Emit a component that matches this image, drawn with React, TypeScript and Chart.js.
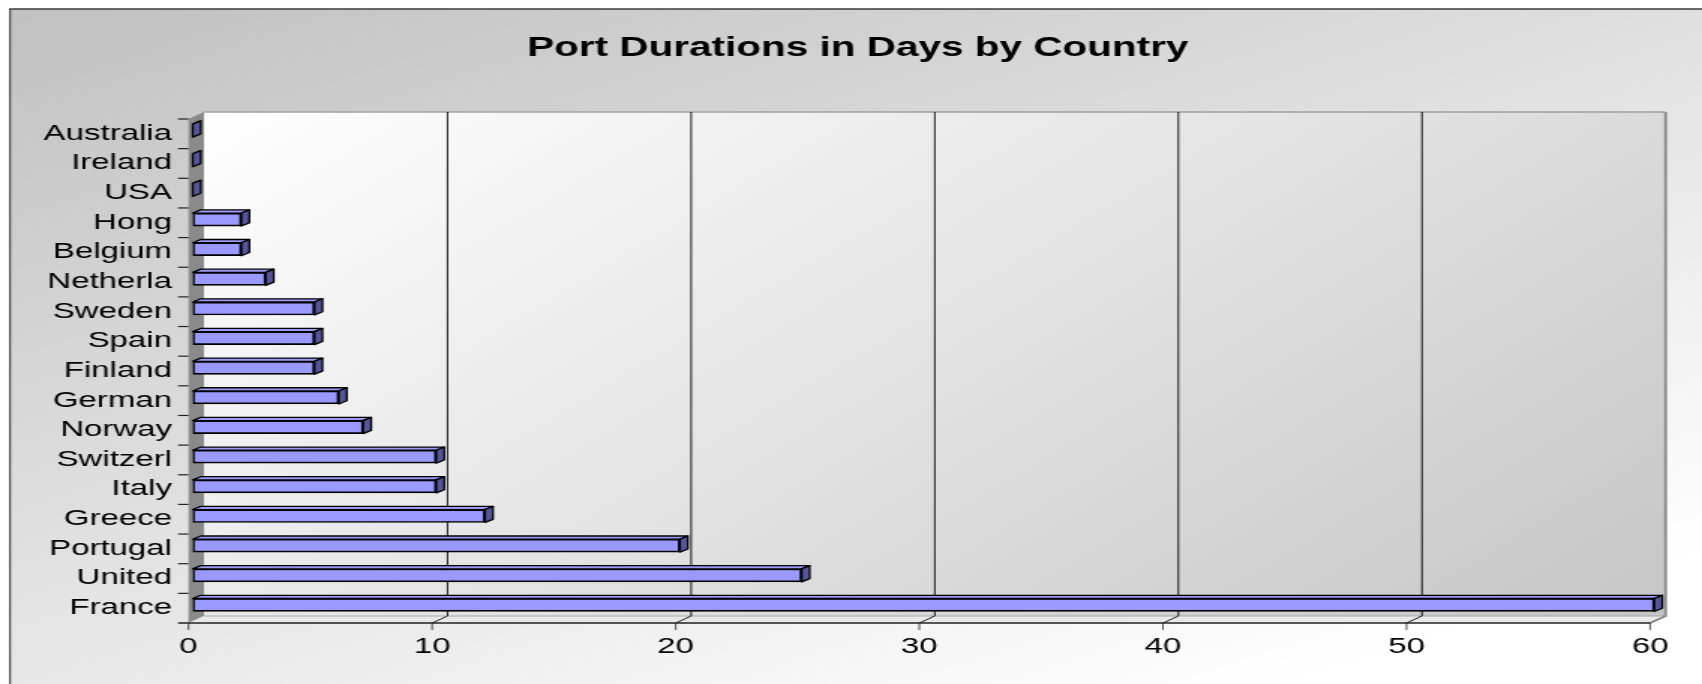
import { useEffect, useRef } from 'react';
import { Chart, registerables } from 'chart.js';

Chart.register(...registerables);

// ---- data ----
const categories = ['Australia', 'Ireland', 'USA', 'Hong', 'Belgium', 'Netherla', 'Sweden', 'Spain', 'Finland', 'German', 'Norway', 'Switzerl', 'Italy', 'Greece', 'Portugal', 'United', 'France'];
const portDays = [0, 0, 0, 2, 2, 3, 5, 5, 5, 6, 7, 10, 10, 12, 20, 25, 60];
const xTicks = [0, 10, 20, 30, 40, 50, 60];
const chartTitle = 'Port Durations in Days by Country';

// ---- layout / style ----
const W = 1135;
const H = 684;
const STRETCH = 1702 / W;
const FONT = "'Liberation Sans', Arial, Helvetica, sans-serif";
const FRONT = { dx: -2.8, dy: 3.2 };
const BACK = { dx: 7.5, dy: -3.8 };
const BAR_D = { dx: 5.3, dy: -3.2 };
const AREA_BOTTOM = 619.8;

const scenePlugin = {
  id: 'scene3d',
  beforeDraw(chart: any) {
    const { ctx, width, height } = chart;
    ctx.save();
    ctx.fillStyle = '#ffffff';
    ctx.fillRect(0, 0, width, height);
    const bx = 6.7;
    const by = 9;
    const g = ctx.createLinearGradient(0, 0, 422, 890);
    g.addColorStop(0, '#c0c0c0');
    g.addColorStop(1, '#ffffff');
    ctx.fillStyle = g;
    ctx.fillRect(bx, by, width - bx, height - by);
    ctx.strokeStyle = '#3a3a3a';
    ctx.lineWidth = 1.6;
    ctx.beginPath();
    ctx.moveTo(bx - 0.6, by);
    ctx.lineTo(width, by);
    ctx.stroke();
    ctx.lineWidth = 1.1;
    ctx.beginPath();
    ctx.moveTo(bx, by);
    ctx.lineTo(bx, height);
    ctx.stroke();
    ctx.restore();
  },
  beforeDatasetsDraw(chart: any) {
    const { ctx, chartArea } = chart;
    const xs = chart.scales.x;
    const x0 = xs.getPixelForValue(xs.min);
    const x1 = xs.getPixelForValue(xs.max);
    const top = chartArea.top;
    const bot = chartArea.bottom;
    const n = categories.length;
    const band = (bot - top) / n;
    const bl = x0 + BACK.dx, br = x1 + BACK.dx, bt = top + BACK.dy, bb = bot + BACK.dy;
    const fl = x0 + FRONT.dx, fr = x1 + FRONT.dx, ft = top + FRONT.dy, fb = bot + FRONT.dy;
    ctx.save();
    // back wall
    const g = ctx.createLinearGradient(bl, bt, bl + 684, bt + 760);
    g.addColorStop(0, '#ffffff');
    g.addColorStop(1, '#c6c6c6');
    ctx.fillStyle = g;
    ctx.fillRect(bl, bt, br - bl, bb - bt);
    // left side wall
    ctx.fillStyle = '#8a8a8a';
    ctx.beginPath();
    ctx.moveTo(fl, ft);
    ctx.lineTo(bl, bt);
    ctx.lineTo(bl, bb);
    ctx.lineTo(fl, fb);
    ctx.closePath();
    ctx.fill();
    // floor
    ctx.fillStyle = '#e9e9e9';
    ctx.beginPath();
    ctx.moveTo(fl, fb);
    ctx.lineTo(fr, fb);
    ctx.lineTo(br, bb);
    ctx.lineTo(bl, bb);
    ctx.closePath();
    ctx.fill();
    ctx.strokeStyle = '#a8a8a8';
    ctx.lineWidth = 1.2;
    ctx.beginPath();
    ctx.moveTo(bl, bb);
    ctx.lineTo(br, bb);
    ctx.stroke();
    // wall edges
    ctx.strokeStyle = '#a0a0a0';
    ctx.lineWidth = 1.6;
    ctx.beginPath();
    ctx.moveTo(bl, bt);
    ctx.lineTo(br, bt);
    ctx.stroke();
    ctx.strokeStyle = '#868686';
    ctx.lineWidth = 1.8;
    ctx.beginPath();
    ctx.moveTo(br, bt);
    ctx.lineTo(br, bb);
    ctx.lineTo(fr, fb);
    ctx.stroke();
    // gridlines on the back wall and floor
    ctx.strokeStyle = '#000000';
    ctx.lineWidth = 0.9;
    xTicks.forEach((v) => {
      if (v === xs.min || v === xs.max) return;
      const px = xs.getPixelForValue(v);
      ctx.beginPath();
      ctx.moveTo(px + BACK.dx, bt);
      ctx.lineTo(px + BACK.dx, bb);
      ctx.stroke();
      ctx.beginPath();
      ctx.moveTo(px + BACK.dx, bb);
      ctx.lineTo(px + FRONT.dx, fb);
      ctx.stroke();
    });
    // x axis line and ticks
    ctx.strokeStyle = '#222222';
    ctx.lineWidth = 1.5;
    ctx.beginPath();
    ctx.moveTo(fl - 7, fb);
    ctx.lineTo(fr, fb);
    ctx.stroke();
    ctx.lineWidth = 0.8;
    xTicks.forEach((v) => {
      const px = xs.getPixelForValue(v) + FRONT.dx;
      ctx.beginPath();
      ctx.moveTo(px, fb);
      ctx.lineTo(px, fb + 7);
      ctx.stroke();
    });
    // category ticks
    ctx.lineWidth = 1.2;
    for (let i = 0; i < n; i++) {
      const y = ft + i * band;
      ctx.beginPath();
      ctx.moveTo(fl - 7, y);
      ctx.lineTo(fl, y);
      ctx.stroke();
    }
    ctx.restore();
  },
  afterDatasetsDraw(chart: any) {
    const { ctx } = chart;
    const meta = chart.getDatasetMeta(0);
    ctx.save();
    ctx.lineWidth = 1.3;
    ctx.strokeStyle = '#000000';
    ctx.lineJoin = 'round';
    meta.data.forEach((el: any) => {
      const { x, y, base, height } = el.getProps(['x', 'y', 'base', 'height'], true);
      const t = y - height / 2;
      const b = y + height / 2;
      const l = Math.min(base, x);
      const r = Math.max(base, x);
      ctx.fillStyle = '#9b9bf5';
      ctx.beginPath();
      ctx.moveTo(l, t);
      ctx.lineTo(l + BAR_D.dx, t + BAR_D.dy);
      ctx.lineTo(r + BAR_D.dx, t + BAR_D.dy);
      ctx.lineTo(r, t);
      ctx.closePath();
      ctx.fill();
      ctx.stroke();
      ctx.fillStyle = '#55559a';
      ctx.beginPath();
      ctx.moveTo(r, t);
      ctx.lineTo(r + BAR_D.dx, t + BAR_D.dy);
      ctx.lineTo(r + BAR_D.dx, b + BAR_D.dy);
      ctx.lineTo(r, b);
      ctx.closePath();
      ctx.fill();
      ctx.stroke();
    });
    ctx.restore();
  },
};

export default function App() {
  const ref = useRef<HTMLCanvasElement>(null);

  useEffect(() => {
    if (!ref.current) return;
    const chart = new Chart(ref.current, {
      type: 'bar',
      data: {
        labels: categories,
        datasets: [
          {
            data: portDays,
            backgroundColor: '#9999ff',
            borderColor: '#000000',
            borderWidth: 1.7,
            borderSkipped: false,
            barThickness: 13,
          } as any,
        ],
      },
      options: {
        indexAxis: 'y',
        responsive: false,
        animation: false,
        devicePixelRatio: 1,
        layout: { padding: { left: 40.8, right: 31.8, top: 0, bottom: 0 } },
        plugins: {
          legend: { display: false },
          tooltip: { enabled: false },
          title: {
            display: true,
            text: chartTitle,
            color: '#000000',
            font: { family: FONT, size: 27, weight: 'bold', lineHeight: 1.2 },
            padding: { top: 32.3, bottom: 51.1 },
          },
        },
        scales: {
          x: {
            type: 'linear',
            position: 'bottom',
            min: 0,
            max: 60,
            afterBuildTicks: (s: any) => {
              s.ticks = xTicks.map((v) => ({ value: v }));
            },
            afterFit: (s: any) => {
              s.height = H - AREA_BOTTOM;
            },
            grid: { display: false, drawTicks: false },
            border: { display: false },
            ticks: {
              color: '#000000',
              font: { family: FONT, size: 22 },
              padding: 14,
              labelOffset: FRONT.dx,
              maxRotation: 0,
              autoSkip: false,
            },
          },
          y: {
            type: 'category',
            afterFit: (s: any) => {
              s.width = 87.7;
              // let the category labels extend left of the axis box without clipping
              s._computeLabelArea = () => undefined;
            },
            grid: { display: false, drawTicks: false },
            border: { display: false },
            ticks: {
              color: '#000000',
              font: { family: FONT, size: 22 },
              padding: 13.8,
              labelOffset: 3,
              autoSkip: false,
            },
          },
        },
      } as any,
      plugins: [scenePlugin],
    });
    return () => chart.destroy();
  }, []);

  return (
    <div style={{ position: 'fixed', left: 0, top: 0, width: 1702, height: 684, overflow: 'hidden', background: '#ffffff' }}>
      <div style={{ width: W, height: H, transform: `scaleX(${STRETCH})`, transformOrigin: '0 0' }}>
        <canvas ref={ref} width={W} height={H} style={{ display: 'block', width: W, height: H }} />
      </div>
    </div>
  );
}
